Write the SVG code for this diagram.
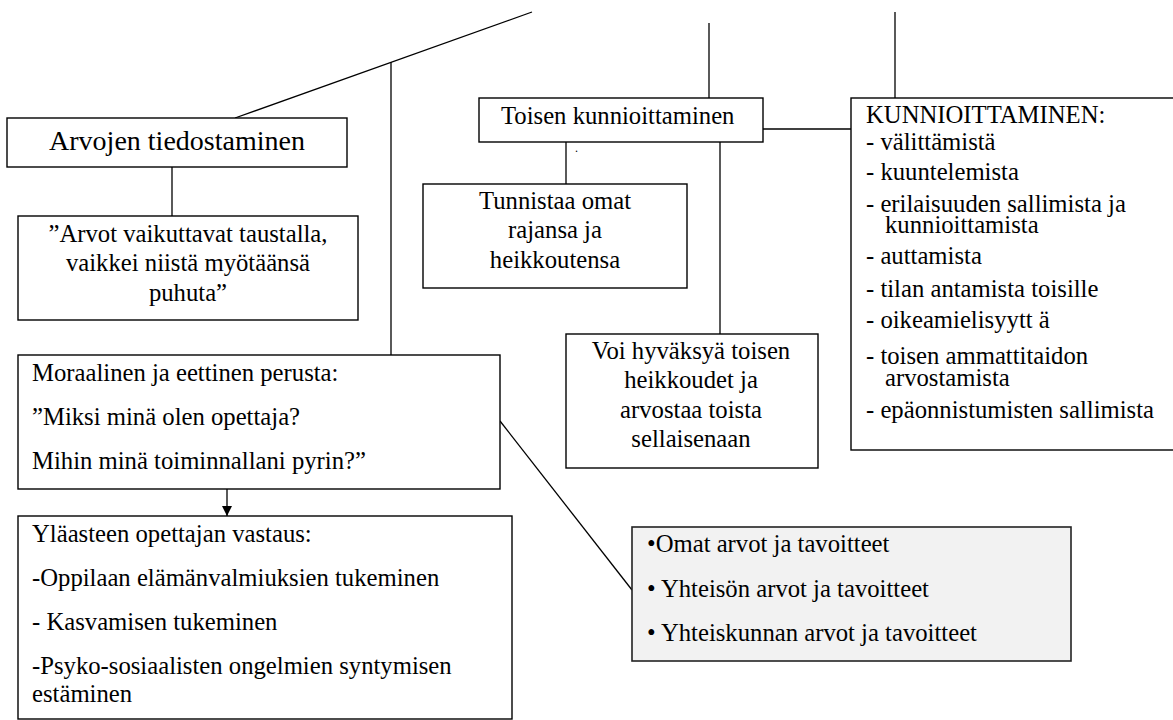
<svg xmlns="http://www.w3.org/2000/svg" width="1173" height="720" viewBox="0 0 1173 720">
<style>
.box{fill:#fff;stroke:#000;stroke-width:1.4}
.grey{fill:#f2f2f2;stroke:#222;stroke-width:1.6}
.t{font-family:"Liberation Serif","Times New Roman",serif;font-size:24.7px;fill:#000}
.c{text-anchor:middle}
.ln{stroke:#000;stroke-width:1.3;fill:none}
</style>
<defs>
<marker id="ah" viewBox="0 0 10 10" refX="10" refY="5" markerWidth="10" markerHeight="10" markerUnits="userSpaceOnUse" orient="auto">
<path d="M0,0 L10,5 L0,10 Z" fill="#000"/>
</marker>
</defs>
<rect width="1173" height="720" fill="#fff"/>
<g id="connectors">
<line class="ln" x1="532" y1="12" x2="235" y2="118"/>
<line class="ln" x1="391" y1="62" x2="391" y2="355"/>
<line class="ln" x1="172" y1="167" x2="172" y2="216"/>
<line class="ln" x1="227" y1="489" x2="227" y2="516" marker-end="url(#ah)"/>
<line class="ln" x1="500" y1="421" x2="632" y2="590"/>
<line class="ln" x1="709" y1="23" x2="709" y2="98"/>
<line class="ln" x1="895" y1="12" x2="895" y2="98"/>
<line class="ln" x1="763" y1="129" x2="851" y2="129"/>
<line class="ln" x1="566" y1="142" x2="566" y2="184"/>
<line class="ln" x1="720" y1="142" x2="720" y2="334"/>
</g>
<g id="arvojen">
<rect class="box" x="7" y="118" width="340" height="49"/>
<text class="t c" x="177" y="150" style="font-size:28px">Arvojen tiedostaminen</text>
</g>
<g id="arvot">
<rect class="box" x="18" y="216" width="340" height="104"/>
<text class="t c" x="188" y="242">”Arvot vaikuttavat taustalla,</text>
<text class="t c" x="188" y="271">vaikkei niistä myötäänsä</text>
<text class="t c" x="188" y="301">puhuta”</text>
</g>
<g id="toisen">
<rect class="box" x="479" y="98" width="284" height="44"/>
<text class="t" x="501" y="124">Toisen kunnioittaminen</text>
<text class="t" x="575" y="152" style="font-size:12px">.</text>
</g>
<g id="tunnistaa">
<rect class="box" x="423" y="184" width="264" height="104"/>
<text class="t c" x="555" y="209">Tunnistaa omat</text>
<text class="t c" x="555" y="238">rajansa ja</text>
<text class="t c" x="555" y="268">heikkoutensa</text>
</g>
<g id="voi">
<rect class="box" x="566" y="334" width="252" height="134"/>
<text class="t c" x="691" y="359">Voi hyväksyä toisen</text>
<text class="t c" x="691" y="388">heikkoudet ja</text>
<text class="t c" x="691" y="418">arvostaa toista</text>
<text class="t c" x="691" y="447">sellaisenaan</text>
</g>
<g id="kunnioittaminen">
<rect class="box" x="851" y="98" width="340" height="352"/>
<text class="t" x="866" y="123">KUNNIOITTAMINEN:</text>
<text class="t" x="866" y="150">- välittämistä</text>
<text class="t" x="866" y="180">- kuuntelemista</text>
<text class="t" x="866" y="212">- erilaisuuden sallimista ja</text>
<text class="t" x="885" y="233">kunnioittamista</text>
<text class="t" x="866" y="264">- auttamista</text>
<text class="t" x="866" y="297">-  tilan antamista toisille</text>
<text class="t" x="866" y="328">- oikeamielisyytt ä</text>
<text class="t" x="866" y="364">- toisen ammattitaidon</text>
<text class="t" x="885" y="386">arvostamista</text>
<text class="t" x="866" y="418">- epäonnistumisten sallimista</text>
</g>
<g id="moraalinen">
<rect class="box" x="18" y="355" width="482" height="134"/>
<text class="t" x="32" y="381">Moraalinen ja eettinen perusta:</text>
<text class="t" x="32" y="425">”Miksi minä olen opettaja?</text>
<text class="t" x="32" y="469">Mihin minä toiminnallani pyrin?”</text>
</g>
<g id="ylaasteen">
<rect class="box" x="18" y="516" width="494" height="203"/>
<text class="t" x="32" y="542">Yläasteen opettajan vastaus:</text>
<text class="t" x="32" y="586">-Oppilaan elämänvalmiuksien tukeminen</text>
<text class="t" x="32" y="630">- Kasvamisen tukeminen</text>
<text class="t" x="32" y="674">-Psyko-sosiaalisten ongelmien syntymisen</text>
<text class="t" x="32" y="702">estäminen</text>
</g>
<g id="arvot-tavoitteet">
<rect class="grey" x="632" y="527" width="439" height="134"/>
<text class="t" x="647" y="552">•Omat arvot ja tavoitteet</text>
<text class="t" x="647" y="597">• Yhteisön arvot ja tavoitteet</text>
<text class="t" x="647" y="641">• Yhteiskunnan arvot ja tavoitteet</text>
</g>
</svg>
